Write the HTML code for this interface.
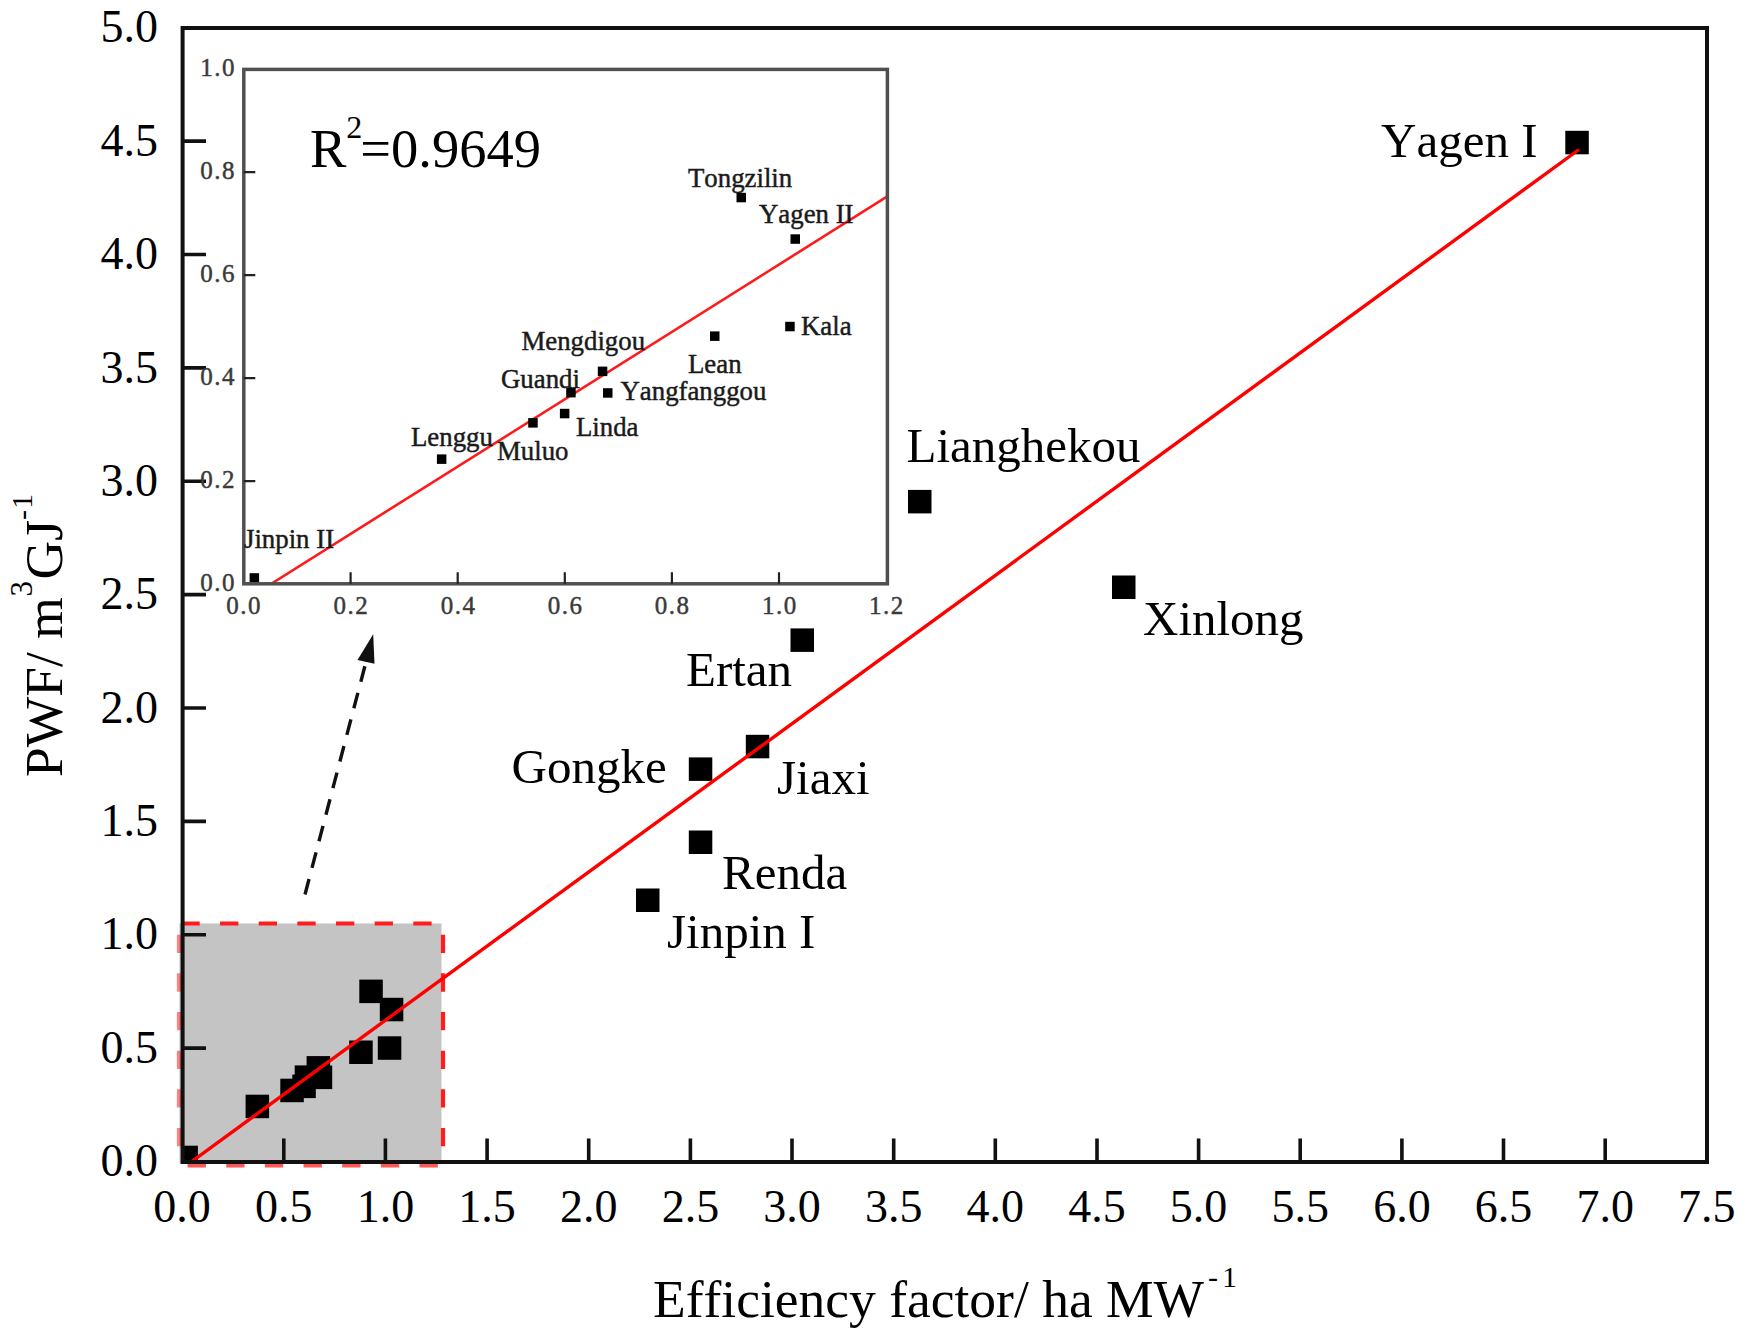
<!DOCTYPE html><html><head><meta charset="utf-8"><style>html,body{margin:0;padding:0;background:#fff;overflow:hidden}svg{display:block}text{font-family:"Liberation Serif","Times New Roman",serif;font-kerning:none}</style></head><body>
<svg width="1746" height="1332" viewBox="0 0 1746 1332">
<defs><clipPath id="pc"><rect x="182.1" y="27.5" width="1524.8" height="1134.0"/></clipPath></defs>
<rect x="179.5" y="923.5" width="262.0" height="240.0" fill="#c4c4c4"/>
<line x1="179.5" y1="923.5" x2="445.0" y2="923.5" stroke="#ff1c1c" stroke-width="4.2" fill="none" stroke-dasharray="18.3 20.35" stroke-dashoffset="-1.9"/>
<line x1="443.0" y1="923.5" x2="443.0" y2="1166.0" stroke="#ff1c1c" stroke-width="4.2" fill="none" stroke-dasharray="18.3 20.35" stroke-dashoffset="-11.2"/>
<line x1="179.5" y1="1165.5" x2="441.5" y2="1165.5" stroke="#ff1c1c" stroke-width="4.2" fill="none" stroke-dasharray="18.3 20.35" stroke-dashoffset="-8.1" opacity="0.75"/>
<line x1="179.0" y1="923.5" x2="179.0" y2="1166.0" stroke="#ff1c1c" stroke-width="4.2" fill="none" stroke-dasharray="18.3 20.35" stroke-dashoffset="-11.2" opacity="0.55"/>
<g clip-path="url(#pc)" fill="#000">
<rect x="174.4" y="1145.7" width="23.5" height="23.5"/>
<rect x="245.6" y="1094.7" width="23.5" height="23.5"/>
<rect x="280.3" y="1078.7" width="23.5" height="23.5"/>
<rect x="292.3" y="1074.6" width="23.5" height="23.5"/>
<rect x="294.7" y="1065.4" width="23.5" height="23.5"/>
<rect x="306.6" y="1056.1" width="23.5" height="23.5"/>
<rect x="308.7" y="1065.6" width="23.5" height="23.5"/>
<rect x="349.2" y="1040.5" width="23.5" height="23.5"/>
<rect x="377.8" y="1036.3" width="23.5" height="23.5"/>
<rect x="359.3" y="979.6" width="23.5" height="23.5"/>
<rect x="379.8" y="997.8" width="23.5" height="23.5"/>
<rect x="636.0" y="888.5" width="23.5" height="23.5"/>
<rect x="688.8" y="830.5" width="23.5" height="23.5"/>
<rect x="688.8" y="757.4" width="23.5" height="23.5"/>
<rect x="745.8" y="734.8" width="23.5" height="23.5"/>
<rect x="790.5" y="628.4" width="23.5" height="23.5"/>
<rect x="908.0" y="489.9" width="23.5" height="23.5"/>
<rect x="1112.0" y="575.5" width="23.5" height="23.5"/>
<rect x="1565.3" y="130.8" width="23.5" height="23.5"/>
</g>
<line x1="188" y1="1164.3" x2="1579" y2="149.5" stroke="#ff0000" stroke-width="3.4" clip-path="url(#pc)"/>
<rect x="182.6" y="28" width="1524.4" height="1134" fill="none" stroke="#111" stroke-width="4"/>
<path d="M283.8 1162.0V1138.5M385.4 1162.0V1138.5M487.1 1162.0V1138.5M588.7 1162.0V1138.5M690.4 1162.0V1138.5M792.0 1162.0V1138.5M893.7 1162.0V1138.5M995.3 1162.0V1138.5M1097.0 1162.0V1138.5M1198.6 1162.0V1138.5M1300.2 1162.0V1138.5M1401.9 1162.0V1138.5M1503.5 1162.0V1138.5M1605.2 1162.0V1138.5M182.6 1048.1H206.0M182.6 934.8H206.0M182.6 821.4H206.0M182.6 708.0H206.0M182.6 594.6H206.0M182.6 481.2H206.0M182.6 367.9H206.0M182.6 254.5H206.0M182.6 141.1H206.0" stroke="#111" stroke-width="3.6" fill="none"/>
<text x="182.1" y="1222" font-size="46" text-anchor="middle">0.0</text>
<text x="283.8" y="1222" font-size="46" text-anchor="middle">0.5</text>
<text x="385.4" y="1222" font-size="46" text-anchor="middle">1.0</text>
<text x="487.1" y="1222" font-size="46" text-anchor="middle">1.5</text>
<text x="588.7" y="1222" font-size="46" text-anchor="middle">2.0</text>
<text x="690.4" y="1222" font-size="46" text-anchor="middle">2.5</text>
<text x="792.0" y="1222" font-size="46" text-anchor="middle">3.0</text>
<text x="893.7" y="1222" font-size="46" text-anchor="middle">3.5</text>
<text x="995.3" y="1222" font-size="46" text-anchor="middle">4.0</text>
<text x="1097.0" y="1222" font-size="46" text-anchor="middle">4.5</text>
<text x="1198.6" y="1222" font-size="46" text-anchor="middle">5.0</text>
<text x="1300.2" y="1222" font-size="46" text-anchor="middle">5.5</text>
<text x="1401.9" y="1222" font-size="46" text-anchor="middle">6.0</text>
<text x="1503.5" y="1222" font-size="46" text-anchor="middle">6.5</text>
<text x="1605.2" y="1222" font-size="46" text-anchor="middle">7.0</text>
<text x="1706.8" y="1222" font-size="46" text-anchor="middle">7.5</text>
<text x="158" y="1176.1" font-size="46" text-anchor="end">0.0</text>
<text x="158" y="1062.7" font-size="46" text-anchor="end">0.5</text>
<text x="158" y="949.4" font-size="46" text-anchor="end">1.0</text>
<text x="158" y="836.0" font-size="46" text-anchor="end">1.5</text>
<text x="158" y="722.6" font-size="46" text-anchor="end">2.0</text>
<text x="158" y="609.2" font-size="46" text-anchor="end">2.5</text>
<text x="158" y="495.9" font-size="46" text-anchor="end">3.0</text>
<text x="158" y="382.5" font-size="46" text-anchor="end">3.5</text>
<text x="158" y="269.1" font-size="46" text-anchor="end">4.0</text>
<text x="158" y="155.7" font-size="46" text-anchor="end">4.5</text>
<text x="158" y="42.4" font-size="46" text-anchor="end">5.0</text>
<text x="653" y="1317" font-size="53.5">Efficiency factor/ ha MW<tspan font-size="30" dx="4" dy="-30">-</tspan><tspan font-size="30" dx="4">1</tspan></text>
<g transform="translate(62,777) rotate(-90)"><text x="0" y="0" font-size="53.5">PWF/ m</text><text x="180.5" y="-30" font-size="31">3</text><text x="197.5" y="0" font-size="53.5">GJ</text><text x="257" y="-30" font-size="30">-</text><text x="268" y="-30" font-size="30">1</text></g>
<text x="1381.0" y="157.4" font-size="49">Yagen I</text>
<text x="906.5" y="461.7" font-size="49">Lianghekou</text>
<text x="1143.0" y="635.4" font-size="49">Xinlong</text>
<text x="686.0" y="686.2" font-size="49">Ertan</text>
<text x="511.5" y="783.4" font-size="49">Gongke</text>
<text x="777.0" y="793.9" font-size="49">Jiaxi</text>
<text x="722.0" y="889.4" font-size="49">Renda</text>
<text x="667.0" y="947.9" font-size="49">Jinpin I</text>
<line x1="305" y1="894.5" x2="366.5" y2="660" stroke="#111" stroke-width="3.4" stroke-dasharray="16 11.5"/>
<polygon points="373.2,634.2 357.5,660 374.5,663.8" fill="#111"/>
<rect x="243.8" y="69.4" width="643.6" height="514.4" fill="#fff"/>
<clipPath id="ic"><rect x="243.8" y="69.4" width="643.6" height="514.4"/></clipPath>
<line x1="272.5" y1="583.0" x2="887.4" y2="196.4" stroke="#ff1a1a" stroke-width="2.6" clip-path="url(#ic)"/>
<g fill="#000" clip-path="url(#ic)">
<rect x="249.6" y="573.2" width="9.5" height="9.5"/>
<rect x="436.9" y="454.4" width="9.5" height="9.5"/>
<rect x="528.2" y="418.1" width="9.5" height="9.5"/>
<rect x="559.9" y="408.8" width="9.5" height="9.5"/>
<rect x="566.2" y="387.9" width="9.5" height="9.5"/>
<rect x="597.8" y="366.6" width="9.5" height="9.5"/>
<rect x="603.0" y="388.2" width="9.5" height="9.5"/>
<rect x="710.0" y="331.4" width="9.5" height="9.5"/>
<rect x="785.2" y="321.8" width="9.5" height="9.5"/>
<rect x="736.5" y="192.8" width="9.5" height="9.5"/>
<rect x="790.5" y="234.3" width="9.5" height="9.5"/>
</g>
<rect x="243.8" y="69.4" width="643.6" height="514.4" fill="none" stroke="#505050" stroke-width="3.5"/>
<path d="M350.6 583.8V572.3M457.7 583.8V572.3M564.8 583.8V572.3M671.9 583.8V572.3M779.0 583.8V572.3M243.8 481.2H255.3M243.8 378.2H255.3M243.8 275.1H255.3M243.8 172.1H255.3" stroke="#222" stroke-width="2.2" fill="none"/>
<text x="244.2" y="614" font-size="25" text-anchor="middle" letter-spacing="1.5" fill="#3a3a3a" stroke="#3a3a3a" stroke-width="0.45">0.0</text>
<text x="351.4" y="614" font-size="25" text-anchor="middle" letter-spacing="1.5" fill="#3a3a3a" stroke="#3a3a3a" stroke-width="0.45">0.2</text>
<text x="458.5" y="614" font-size="25" text-anchor="middle" letter-spacing="1.5" fill="#3a3a3a" stroke="#3a3a3a" stroke-width="0.45">0.4</text>
<text x="565.6" y="614" font-size="25" text-anchor="middle" letter-spacing="1.5" fill="#3a3a3a" stroke="#3a3a3a" stroke-width="0.45">0.6</text>
<text x="672.7" y="614" font-size="25" text-anchor="middle" letter-spacing="1.5" fill="#3a3a3a" stroke="#3a3a3a" stroke-width="0.45">0.8</text>
<text x="779.8" y="614" font-size="25" text-anchor="middle" letter-spacing="1.5" fill="#3a3a3a" stroke="#3a3a3a" stroke-width="0.45">1.0</text>
<text x="886.9" y="614" font-size="25" text-anchor="middle" letter-spacing="1.5" fill="#3a3a3a" stroke="#3a3a3a" stroke-width="0.45">1.2</text>
<text x="236" y="590.8" font-size="25" text-anchor="end" letter-spacing="1.5" fill="#3a3a3a" stroke="#3a3a3a" stroke-width="0.45">0.0</text>
<text x="236" y="487.7" font-size="25" text-anchor="end" letter-spacing="1.5" fill="#3a3a3a" stroke="#3a3a3a" stroke-width="0.45">0.2</text>
<text x="236" y="384.7" font-size="25" text-anchor="end" letter-spacing="1.5" fill="#3a3a3a" stroke="#3a3a3a" stroke-width="0.45">0.4</text>
<text x="236" y="281.6" font-size="25" text-anchor="end" letter-spacing="1.5" fill="#3a3a3a" stroke="#3a3a3a" stroke-width="0.45">0.6</text>
<text x="236" y="178.6" font-size="25" text-anchor="end" letter-spacing="1.5" fill="#3a3a3a" stroke="#3a3a3a" stroke-width="0.45">0.8</text>
<text x="236" y="75.5" font-size="25" text-anchor="end" letter-spacing="1.5" fill="#3a3a3a" stroke="#3a3a3a" stroke-width="0.45">1.0</text>
<text x="310" y="166.5" font-size="54.5">R<tspan font-size="32" dy="-29" dx="0">2</tspan><tspan dy="29" dx="-2">=0.9649</tspan></text>
<text x="688.0" y="187.1" font-size="26.8" fill="#1a1a1a" stroke="#1a1a1a" stroke-width="0.45">Tongzilin</text>
<text x="759.0" y="223.0" font-size="26.8" fill="#1a1a1a" stroke="#1a1a1a" stroke-width="0.45">Yagen II</text>
<text x="801.0" y="334.5" font-size="26.8" fill="#1a1a1a" stroke="#1a1a1a" stroke-width="0.45">Kala</text>
<text x="688.0" y="373.0" font-size="26.8" fill="#1a1a1a" stroke="#1a1a1a" stroke-width="0.45">Lean</text>
<text x="521.5" y="349.8" font-size="26.8" fill="#1a1a1a" stroke="#1a1a1a" stroke-width="0.45">Mengdigou</text>
<text x="501.0" y="387.8" font-size="26.8" fill="#1a1a1a" stroke="#1a1a1a" stroke-width="0.45">Guandi</text>
<text x="620.5" y="400.2" font-size="26.8" fill="#1a1a1a" stroke="#1a1a1a" stroke-width="0.45">Yangfanggou</text>
<text x="576.0" y="436.2" font-size="26.8" fill="#1a1a1a" stroke="#1a1a1a" stroke-width="0.45">Linda</text>
<text x="411.0" y="445.8" font-size="26.8" fill="#1a1a1a" stroke="#1a1a1a" stroke-width="0.45">Lenggu</text>
<text x="497.0" y="460.0" font-size="26.8" fill="#1a1a1a" stroke="#1a1a1a" stroke-width="0.45">Muluo</text>
<text x="244.0" y="547.7" font-size="26.8" fill="#1a1a1a" stroke="#1a1a1a" stroke-width="0.45">Jinpin II</text>
</svg></body></html>
